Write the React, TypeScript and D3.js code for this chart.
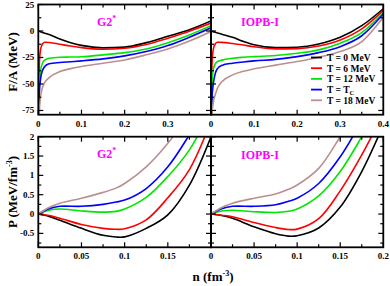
import * as d3 from 'd3';

// temperatures (legend)
const temps = ['T = 0 MeV', 'T = 6 MeV', 'T = 12 MeV', 'T = T_C', 'T = 18 MeV'];
const colors = ['#000000', '#ff0000', '#00e600', '#0000ff', '#bc8f8f'];

// density grid for F/A (fm^-3)
const nFA = [0, 0.002, 0.005, 0.01, 0.015, 0.025, 0.05, 0.075, 0.1, 0.15, 0.2, 0.25, 0.3, 0.35, 0.4];
// F/A (MeV), G2*
const faG2 = [
    [0, -0.3, -0.7, -1.4, -2.1, -3.4, -7.5, -11, -13.6, -15.9, -15.2, -11, -5, 1.2, 9.5],
    [-150, -35, -18, -12, -10.6, -10.8, -12.5, -14.2, -15.7, -17.2, -16.3, -12.8, -6.8, -0.2, 7.5],
    [-150, -55, -38, -30, -27.5, -25.8, -24.8, -24.6, -24.3, -22.5, -20.4, -17, -11, -3.7, 5],
    [-150, -62, -46, -37, -33.5, -31, -29.8, -29, -28.2, -26.3, -23.5, -19.4, -13.8, -5.9, 3],
    [-150, -80, -63, -53, -48.5, -44, -38.3, -35.5, -33.5, -30.4, -27.3, -22.5, -17, -9.5, -0.5],
];
// F/A (MeV), IOPB-I
const faIOPB = [
    [0, -0.2, -0.6, -1.2, -1.8, -3, -6, -9.8, -13, -15.7, -15.3, -12.3, -6, 5, 21],
    [-150, -35, -18, -12, -10.6, -10.7, -11.8, -13.3, -14.8, -16.9, -16.6, -14.2, -8.5, 2, 19.5],
    [-150, -55, -37, -31, -29, -27.5, -25.7, -24.8, -24.2, -23.2, -21, -17.8, -11.5, -1.5, 17.5],
    [-150, -65, -51, -40, -35.5, -32.5, -30.4, -29.2, -28.2, -26.8, -24.2, -20.4, -14.8, -4.5, 16],
    [-150, -80, -68, -60, -54, -48, -41.4, -38, -35.7, -32.2, -28.8, -24.7, -19.4, -10, 13],
];

// density grid for P
const nP = [0, 0.0125, 0.025, 0.05, 0.075, 0.09, 0.1, 0.125, 0.15, 0.175, 0.2];
// P (MeV/fm^3), G2*
const pG2 = [
    [0, -0.06, -0.16, -0.37, -0.55, -0.595, -0.59, -0.37, -0.02, 0.75, 2.0],
    [0, -0.04, -0.11, -0.27, -0.37, -0.395, -0.38, -0.15, 0.42, 1.15, 2.4],
    [0, 0.1, 0.13, 0.08, 0.05, 0.07, 0.13, 0.43, 0.97, 1.66, 2.7],
    [0, 0.14, 0.2, 0.2, 0.25, 0.31, 0.36, 0.66, 1.22, 2.05, 3.0],
    [0, 0.17, 0.28, 0.41, 0.56, 0.67, 0.79, 1.22, 1.83, 2.6, 3.5],
];
// P (MeV/fm^3), IOPB-I
const pIOPB = [
    [0, -0.04, -0.11, -0.33, -0.51, -0.57, -0.56, -0.36, 0.18, 1.1, 2.3],
    [0, -0.03, -0.07, -0.22, -0.35, -0.4, -0.39, -0.12, 0.6, 1.53, 2.6],
    [0, 0.08, 0.1, 0.06, 0.04, 0.07, 0.13, 0.47, 1.1, 2.0, 3.0],
    [0, 0.14, 0.2, 0.2, 0.24, 0.33, 0.41, 0.79, 1.48, 2.4, 3.3],
    [0, 0.17, 0.28, 0.41, 0.52, 0.64, 0.75, 1.18, 2.0, 2.9, 3.8],
];

const faTicks = [25, 0, -25, -50, -75];
const pTicks = [2, 1.5, 1, 0.5, 0, -0.5];
const nTicksTop = [0, 0.1, 0.2, 0.3, 0.4];
const nTicksBot = [0, 0.05, 0.1, 0.15, 0.2];

const FONT = '"Liberation Serif", "Times New Roman", serif';
const X0 = 38.3, XM = 211, X1 = 383.3;
const TOP = [4.5, 114.7];
const BOT = [136.7, 247.3];

function Panel({ id, x0, x1, y0, y1, xDom, yDom, xMajor, xMinor, yMajor, yMinor, grid, series,
    xLabels, yLabels, title, titleX, titleY, curve }) {
    const x = d3.scaleLinear().domain(xDom).range([x0, x1]);
    const y = d3.scaleLinear().domain(yDom).range([y1, y0]);
    const line = d3.line<number>()
        .x((_, i) => x(grid[i]))
        .y(d => y(d))
        .curve(curve);
    const xt = d3.range(xDom[0], xDom[1] + 1e-9, xMinor);
    const yt = d3.range(Math.ceil(yDom[0] / yMinor) * yMinor, yDom[1] + 1e-9, yMinor);
    const isMaj = (v, step) => Math.abs(v / step - Math.round(v / step)) < 1e-6;
    return (
        <g>
            <defs>
                <clipPath id={id}>
                    <rect x={x0} y={y0} width={x1 - x0} height={y1 - y0} />
                </clipPath>
            </defs>
            <g clipPath={`url(#${id})`}>
                {series.map((s, i) => (
                    <path key={i} d={line(s)} fill="none" stroke={colors[i]} strokeWidth={1.6} />
                ))}
            </g>
            {xt.map((v, i) => {
                const L = isMaj(v, xMajor) ? 5 : 3;
                return (
                    <g key={'x' + i} stroke="#000" strokeWidth={1.2}>
                        <line x1={x(v)} x2={x(v)} y1={y1} y2={y1 - L} />
                        <line x1={x(v)} x2={x(v)} y1={y0} y2={y0 + L} />
                    </g>
                );
            })}
            {yt.map((v, i) => {
                const L = isMaj(v, yMajor) ? 5 : 3;
                return (
                    <g key={'y' + i} stroke="#000" strokeWidth={1.2}>
                        <line x1={x0} x2={x0 + L} y1={y(v)} y2={y(v)} />
                        <line x1={x1} x2={x1 - L} y1={y(v)} y2={y(v)} />
                    </g>
                );
            })}
            <rect x={x0} y={y0} width={x1 - x0} height={y1 - y0} fill="none" stroke="#000" strokeWidth={1.8} />
            {xLabels.map((v, i) => (
                <text key={'xl' + i} x={x(v)} y={y1 + 12} textAnchor="middle" fontSize={9}
                    fontWeight="bold" fontFamily={FONT}>{String(v)}</text>
            ))}
            {yLabels.map((v, i) => (
                <text key={'yl' + i} x={x0 - 4} y={y(v) + 3} textAnchor="end" fontSize={9}
                    fontWeight="bold" fontFamily={FONT}>{String(v)}</text>
            ))}
            {title === 'G2' ? (
                <text x={titleX} y={titleY} fontSize={12} fontWeight="bold" fontFamily={FONT}
                    fill="#ff00ff">G2<tspan dy={-5} fontSize={8}>*</tspan></text>
            ) : (
                <text x={titleX} y={titleY} fontSize={12} fontWeight="bold" fontFamily={FONT}
                    fill="#ff00ff">{title}</text>
            )}
        </g>
    );
}

export default function App() {
    const legY = [57.5, 68.2, 78.9, 89.6, 100.3];
    const mono = d3.curveMonotoneX;
    const smooth = d3.curveCatmullRom.alpha(0.5);
    return (
        <svg width={390} height={286} style={{ position: 'absolute', left: 0, top: 0, background: '#fff' }}>
            <Panel id="c1" x0={X0} x1={XM} y0={TOP[0]} y1={TOP[1]} xDom={[0, 0.4]} yDom={[-79, 25]}
                xMajor={0.1} xMinor={0.05} yMajor={25} yMinor={12.5} grid={nFA} series={faG2} curve={mono}
                xLabels={nTicksTop.slice(0, 4)} yLabels={faTicks} title="G2" titleX={97} titleY={26} />
            <Panel id="c2" x0={XM} x1={X1} y0={TOP[0]} y1={TOP[1]} xDom={[0, 0.4]} yDom={[-79, 25]}
                xMajor={0.1} xMinor={0.05} yMajor={25} yMinor={12.5} grid={nFA} series={faIOPB} curve={mono}
                xLabels={nTicksTop} yLabels={[]} title="IOPB-I" titleX={241} titleY={26} />
            <Panel id="c3" x0={X0} x1={XM} y0={BOT[0]} y1={BOT[1]} xDom={[0, 0.2]} yDom={[-0.86, 2]}
                xMajor={0.05} xMinor={0.025} yMajor={0.5} yMinor={0.25} grid={nP} series={pG2} curve={smooth}
                xLabels={nTicksBot.slice(0, 4)} yLabels={pTicks} title="G2" titleX={97} titleY={157.5} />
            <Panel id="c4" x0={XM} x1={X1} y0={BOT[0]} y1={BOT[1]} xDom={[0, 0.2]} yDom={[-0.86, 2]}
                xMajor={0.05} xMinor={0.025} yMajor={0.5} yMinor={0.25} grid={nP} series={pIOPB} curve={smooth}
                xLabels={nTicksBot} yLabels={[]} title="IOPB-I" titleX={241} titleY={158.5} />

            {/* legend */}
            {temps.map((t, i) => (
                <g key={t}>
                    <line x1={311} x2={322} y1={legY[i]} y2={legY[i]} stroke={colors[i]} strokeWidth={1.8} />
                    <text x={327} y={legY[i] + 3.3} fontSize={9.5} fontWeight="bold" fontFamily={FONT}>
                        {t === 'T = T_C' ? (<>T = T<tspan dy={2.5} fontSize={6.5}>C</tspan></>) : t}
                    </text>
                </g>
            ))}

            {/* axis titles */}
            <text transform="translate(17,62) rotate(-90)" textAnchor="middle" fontSize={13}
                fontWeight="bold" fontFamily={FONT}>F/A (MeV)</text>
            <text transform="translate(17,192) rotate(-90)" textAnchor="middle" fontSize={13}
                fontWeight="bold" fontFamily={FONT}>P (MeV/fm<tspan dy={-5} fontSize={8}>-3</tspan><tspan dy={5}>)</tspan></text>
            <text x={213} y={281} textAnchor="middle" fontSize={13} fontWeight="bold"
                fontFamily={FONT}>n (fm<tspan dy={-5} fontSize={8}>-3</tspan><tspan dy={5}>)</tspan></text>
        </svg>
    );
}
